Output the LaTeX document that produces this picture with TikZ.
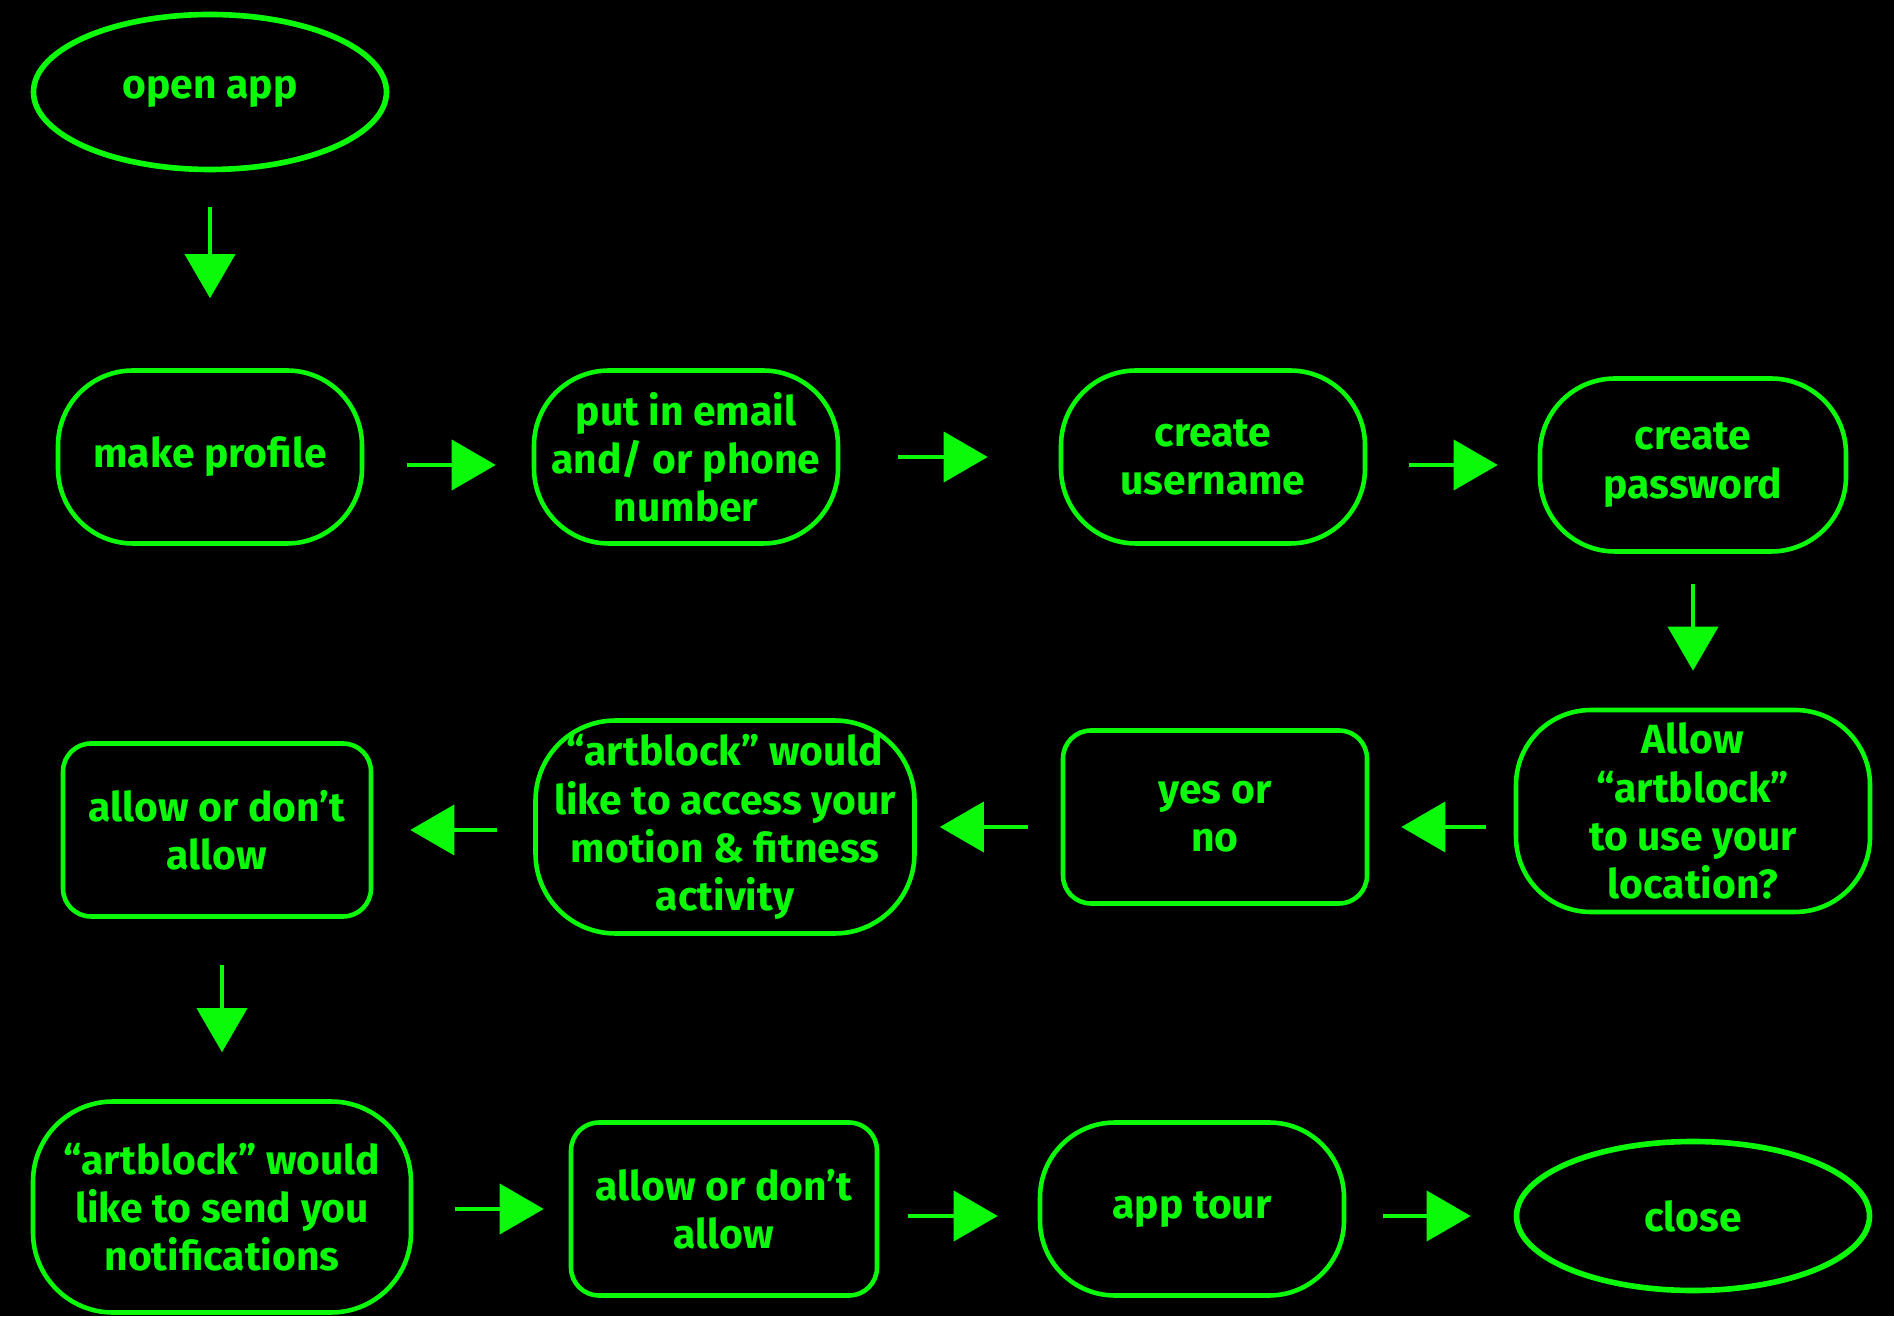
\documentclass[tikz,border=0pt]{standalone}
\usepackage{fontspec}
\setmainfont{Fira Sans}
\usepackage{tikz}
\usetikzlibrary{shapes,arrows.meta,positioning,calc}
\definecolor{neon}{RGB}{10,250,10}

\begin{document}
\begin{tikzpicture}[
					every node/.style = {text = neon, align = center,
						font = \fontsize{11.6}{13.7}\selectfont\bfseries},
					pill/.style = {draw = neon, line width = 1.3pt, rounded corners = 0.75cm,
						minimum width = 3.04cm, minimum height = 1.73cm, inner sep = 1pt},
					boxy/.style = {pill, rounded corners = 0.28cm},
					oval/.style = {draw = neon, ellipse, line width = 1.6pt,
						minimum width = 3.53cm, minimum height = 1.55cm},
					flow/.style = {draw = neon, line width = 1.1pt,
						-{Triangle[length = 0.44cm, width = 0.5cm]}}
					]

					% background and page size
					\useasboundingbox (0,0) rectangle (18.94,13.16);
					\fill[black] (0,0) rectangle (18.94,13.16);

					% first row
					\node[oval] (open) at (2.10,12.24) {open app};
					\node[pill] (prof) at (2.10,8.59) {make profile};
					\node[pill] (mail) at (6.86,8.59) {put in email\\and/ or phone\\number};
					\node[pill] (user) at (12.13,8.59) {create\\username};
					\node[pill, minimum width = 3.06cm] (pass) at (16.93,8.51) {create\\password};

					% second row
					\node[pill, minimum width = 3.54cm, minimum height = 2.02cm] (loc) at (16.93,5.05) {Allow\\“artblock”\\to use your\\location?};
					\node[boxy] (yesno) at (12.15,4.99) {yes or\\no};
					\node[pill, minimum width = 3.79cm, minimum height = 2.13cm, rounded corners = 0.8cm] (motion) at (7.25,4.89) {“artblock” would\\like to access your\\motion \& fitness\\activity};
					\node[boxy, minimum width = 3.08cm] (allowa) at (2.17,4.86) {allow or don’t\\allow};

					% third row
					\node[pill, minimum width = 3.78cm, minimum height = 2.11cm, rounded corners = 0.8cm] (notif) at (2.22,1.09) {“artblock” would\\like to send you\\notifications};
					\node[boxy, minimum width = 3.06cm] (allowb) at (7.24,1.07) {allow or don’t\\allow};
					\node[pill] (tour) at (11.92,1.07) {app tour};
					\node[oval, minimum height = 1.49cm] (close) at (16.93,1.00) {close};

					% arrows
					\draw[flow, shorten <= 0.35cm, shorten >= 0.70cm] (open) -- (prof);
					\draw[flow, shorten <= 0.43cm, shorten >= 0.36cm] (prof.east |- pass.west) -- (mail.west |- pass.west);
					\draw[flow, shorten <= 0.58cm, shorten >= 0.71cm] (mail) -- (user);
					\draw[flow, shorten <= 0.42cm, shorten >= 0.40cm] (pass.west -| user.east) -- (pass.west);
					\draw[flow, shorten <= 0.30cm, shorten >= 0.37cm] (pass) -- (loc);
					\draw[flow, shorten <= 0.28cm, shorten >= 0.32cm] (motion.east -| loc.west) -- (motion.east -| yesno.east);
					\draw[flow, shorten <= 0.33cm, shorten >= 0.23cm] (motion.east -| yesno.west) -- (motion.east);
					\draw[flow, shorten <= 0.36cm, shorten >= 0.37cm] (motion.west |- allowa.east) -- (allowa.east);
					\draw[flow, shorten <= 0.46cm, shorten >= 0.47cm] (allowa.south -| notif.north) -- (notif.north);
					\draw[flow, shorten <= 0.42cm, shorten >= 0.25cm] (notif.east |- allowb.west) -- (allowb.west);
					\draw[flow, shorten <= 0.29cm, shorten >= 0.40cm] (allowb.east |- close.west) -- (tour.west |- close.west);
					\draw[flow, shorten <= 0.37cm, shorten >= 0.43cm] (tour.east |- close.west) -- (close.west);

				\end{tikzpicture}
\end{document}
